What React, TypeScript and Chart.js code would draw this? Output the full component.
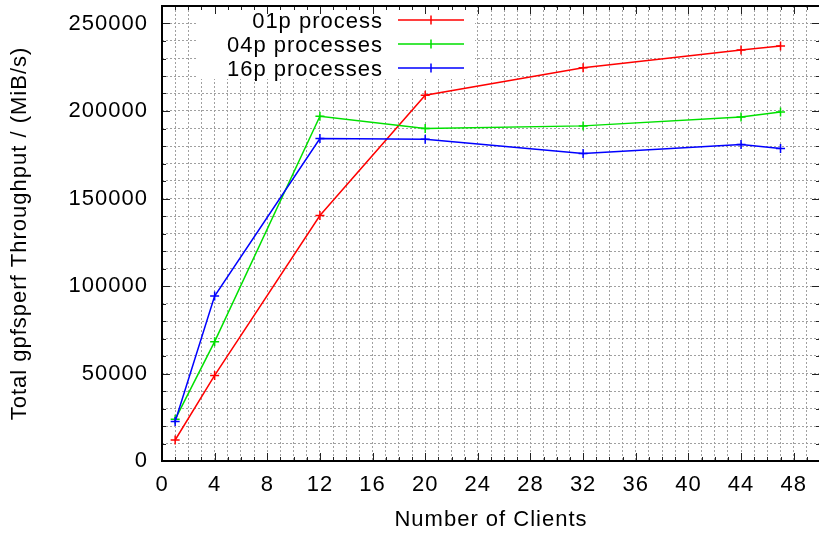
import React, { useEffect, useRef } from 'react';
import { Chart, registerables } from 'chart.js';

Chart.register(...registerables);

const clients = [1, 4, 12, 20, 32, 44, 47];
const throughput01p = [12000, 48900, 140300, 209000, 224700, 234800, 237200];
const throughput04p = [23800, 68200, 197000, 190000, 191500, 196600, 199400];
const throughput16p = [22600, 94300, 184300, 183800, 175700, 180900, 178600];
const seriesLabels = ['01p process', '04p processes', '16p processes'];
const seriesColors = ['#ff0000', '#00e000', '#0000ff'];
const xTickLabels = [0, 4, 8, 12, 16, 20, 24, 28, 32, 36, 40, 44, 48];
const yTickLabels = [0, 50000, 100000, 150000, 200000, 250000];
const xTitle = 'Number of Clients';
const yTitle = 'Total gpfsperf Throughput / (MiB/s)';

const FONT_FAMILY = "'Liberation Sans', Arial, Helvetica, sans-serif";
const FONT_SIZE = 22;
const LETTER_SPACING = '1px';
const CANVAS_W = 826;
const CANVAS_H = 533;

const isIn = (list: number[], v: number) => list.some((t) => Math.abs(t - v) < 1e-6);

const gnuplotFrame = {
  id: 'gnuplotFrame',
  beforeDraw(chart: any) {
    (chart.ctx as any).letterSpacing = LETTER_SPACING;
  },
  beforeDatasetsDraw(chart: any) {
    const { ctx, chartArea: a, scales } = chart;
    ctx.save();
    // legend box (opaque, hides grid)
    ctx.fillStyle = '#ffffff';
    ctx.fillRect(197, a.top, 475 - 197, 79 - a.top);
    // legend entries
    ctx.font = `${FONT_SIZE}px ${FONT_FAMILY}`;
    (ctx as any).letterSpacing = LETTER_SPACING;
    ctx.textAlign = 'right';
    ctx.textBaseline = 'alphabetic';
    chart.data.datasets.forEach((ds: any, i: number) => {
      const cy = 20 + i * 24;
      ctx.fillStyle = '#000';
      ctx.fillText(ds.label, 383, cy + 8);
      ctx.strokeStyle = ds.borderColor;
      ctx.lineWidth = 1.5;
      ctx.beginPath();
      ctx.moveTo(398, cy);
      ctx.lineTo(464, cy);
      ctx.moveTo(431, cy - 4.5);
      ctx.lineTo(431, cy + 4.5);
      ctx.stroke();
    });
    // inward ticks on all sides
    ctx.strokeStyle = '#222';
    ctx.lineWidth = 1;
    ctx.beginPath();
    scales.x.ticks.forEach((t: any) => {
      const px = Math.round(scales.x.getPixelForValue(t.value)) + 0.5;
      const len = isIn(xTickLabels, t.value) ? 8 : 4;
      ctx.moveTo(px, a.bottom);
      ctx.lineTo(px, a.bottom - len);
      ctx.moveTo(px, a.top);
      ctx.lineTo(px, a.top + len);
    });
    scales.y.ticks.forEach((t: any) => {
      const py = Math.round(scales.y.getPixelForValue(t.value)) + 0.5;
      const len = isIn(yTickLabels, t.value) ? 8 : 4;
      ctx.moveTo(a.left, py);
      ctx.lineTo(a.left + len, py);
      ctx.moveTo(a.right, py);
      ctx.lineTo(a.right - len, py);
    });
    ctx.stroke();
    // border
    ctx.strokeStyle = '#000';
    ctx.lineWidth = 2;
    ctx.strokeRect(a.left, a.top, a.right - a.left, a.bottom - a.top);
    ctx.restore();
  },
};

export default function App() {
  const canvasRef = useRef<HTMLCanvasElement | null>(null);

  useEffect(() => {
    if (!canvasRef.current) return;
    const font = { family: FONT_FAMILY, size: FONT_SIZE };
    const series = [throughput01p, throughput04p, throughput16p];
    const chart = new Chart(canvasRef.current, {
      type: 'line',
      data: {
        datasets: series.map((vals, i) => ({
          label: seriesLabels[i],
          data: clients.map((c, j) => ({ x: c, y: vals[j] })),
          borderColor: seriesColors[i],
          backgroundColor: seriesColors[i],
          borderWidth: 1.5,
          pointStyle: 'cross',
          pointRadius: 4.5,
          pointBorderWidth: 1.5,
          pointBorderColor: seriesColors[i],
          tension: 0,
          fill: false,
          order: 3 - i,
        })),
      },
      options: {
        animation: false,
        responsive: false,
        devicePixelRatio: 1,
        layout: { padding: { left: 0, top: 3, right: 4, bottom: 0 } },
        plugins: { legend: { display: false }, tooltip: { enabled: false } },
        scales: {
          x: {
            type: 'linear',
            min: 0,
            max: 50,
            afterFit: (s: any) => {
              s.height = 72;
              s.paddingLeft = 0;
              s.paddingRight = 0;
            },
            ticks: {
              stepSize: 1,
              autoSkip: false,
              maxRotation: 0,
              padding: 11,
              font,
              color: '#000',
              callback: (v: any) => (isIn(xTickLabels, Number(v)) ? String(v) : ''),
            },
            grid: { color: '#a0a0a0', lineWidth: 1, drawTicks: false },
            border: { display: false, dash: [2, 2] },
            title: { display: true, text: xTitle, font, color: '#000', padding: { top: 0, bottom: 0 } },
          },
          y: {
            type: 'linear',
            min: 0,
            max: 260000,
            afterFit: (s: any) => {
              s.width = 162;
              s.paddingTop = 0;
              s.paddingBottom = 0;
            },
            ticks: {
              stepSize: 10000,
              autoSkip: false,
              padding: 14,
              font,
              color: '#000',
              callback: (v: any) => (isIn(yTickLabels, Number(v)) ? String(v) : ''),
            },
            grid: { color: '#a0a0a0', lineWidth: 1, drawTicks: false },
            border: { display: false, dash: [2, 2] },
            title: { display: true, text: yTitle, font, color: '#000', padding: { top: 7, bottom: 0 } },
          },
        },
      },
      plugins: [gnuplotFrame],
    } as any);
    return () => chart.destroy();
  }, []);

  return (
    <div style={{ position: 'fixed', left: 0, top: 0, width: 819, height: 533, overflow: 'hidden', background: '#fff' }}>
      <canvas
        ref={canvasRef}
        width={CANVAS_W}
        height={CANVAS_H}
        style={{ display: 'block', width: CANVAS_W, height: CANVAS_H }}
      />
    </div>
  );
}
